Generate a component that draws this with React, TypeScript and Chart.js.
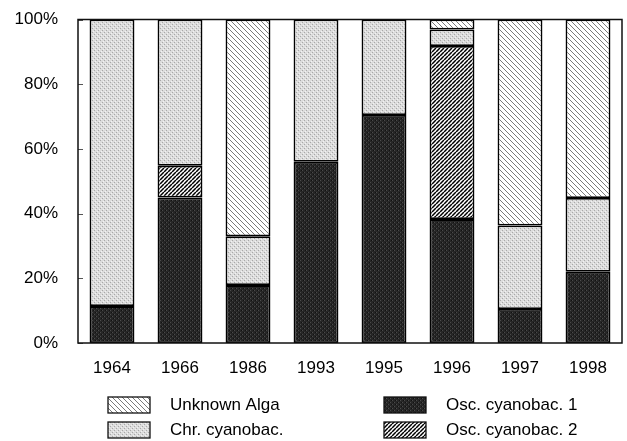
import React, { useEffect, useRef } from "react";
import { Chart, registerables } from "chart.js";

Chart.register(...registerables);

const categories = ["1964", "1966", "1986", "1993", "1995", "1996", "1997", "1998"];
const osc1 = [11.4, 45, 17.9, 56, 70.5, 38.3, 10.5, 22];
const osc2 = [null, 9.8, null, null, null, 53.5, null, null];
const chr = [88.6, 45.2, 15.1, 44, 29.5, 5.1, 25.8, 22.8];
const unknown = [null, null, 67, null, null, 3.1, 63.7, 55.2];
const seriesNames = ["Osc. cyanobac. 1", "Osc. cyanobac. 2", "Chr. cyanobac.", "Unknown Alga"];
const yTickStep = 20;

const FONT = "'Liberation Sans', Arial, sans-serif";

function makeTile(size: number, draw: (c: CanvasRenderingContext2D, s: number) => void) {
  const cv = document.createElement("canvas");
  cv.width = size;
  cv.height = size;
  const c = cv.getContext("2d")!;
  draw(c, size);
  return cv;
}

function makePatterns(ctx: CanvasRenderingContext2D) {
  const dark = makeTile(4, (c, s) => {
    c.fillStyle = "#262626";
    c.fillRect(0, 0, s, s);
    c.fillStyle = "#4a4a4a";
    c.fillRect(0, 0, 1, 1);
    c.fillRect(2, 2, 1, 1);
    c.fillStyle = "#111";
    c.fillRect(1, 2, 1, 1);
    c.fillRect(3, 0, 1, 1);
  });
  const light = makeTile(4, (c, s) => {
    c.fillStyle = "#dcdcdc";
    c.fillRect(0, 0, s, s);
    c.fillStyle = "#a8a8a8";
    c.fillRect(0, 0, 1, 1);
    c.fillRect(2, 2, 1, 1);
    c.fillStyle = "#f2f2f2";
    c.fillRect(1, 3, 1, 1);
    c.fillRect(3, 1, 1, 1);
  });
  const back = makeTile(5, (c, s) => {
    c.fillStyle = "#ffffff";
    c.fillRect(0, 0, s, s);
    c.strokeStyle = "#7a7a7a";
    c.lineWidth = 1;
    for (const o of [-s, 0, s]) {
      c.beginPath();
      c.moveTo(o, 0);
      c.lineTo(o + s, s);
      c.stroke();
    }
  });
  const fwd = makeTile(4, (c, s) => {
    c.fillStyle = "#ffffff";
    c.fillRect(0, 0, s, s);
    c.strokeStyle = "#000000";
    c.lineWidth = 1.5;
    for (const o of [-s, 0, s]) {
      c.beginPath();
      c.moveTo(o, s);
      c.lineTo(o + s, 0);
      c.stroke();
    }
  });
  return {
    osc1: ctx.createPattern(dark, "repeat")!,
    osc2: ctx.createPattern(fwd, "repeat")!,
    chr: ctx.createPattern(light, "repeat")!,
    unknown: ctx.createPattern(back, "repeat")!,
  };
}

export default function App() {
  const ref = useRef<HTMLCanvasElement | null>(null);

  useEffect(() => {
    document.body.style.margin = "0";
    const canvas = ref.current!;
    const ctx = canvas.getContext("2d")!;
    const p = makePatterns(ctx);
    const fills = [p.osc1, p.osc2, p.chr, p.unknown];
    const values = [osc1, osc2, chr, unknown];

    const legendLayout = [
      { idx: 3, x: 108, y: 405 },
      { idx: 2, x: 108, y: 430 },
      { idx: 0, x: 384, y: 405 },
      { idx: 1, x: 384, y: 430 },
    ];

    const extras = {
      id: "extras",
      afterDatasetsDraw(chart: any) {
        const { ctx: c, chartArea: a } = chart;
        const ys = chart.scales.y;
        c.save();
        c.strokeStyle = "#555";
        c.lineWidth = 1;
        for (let v = ys.min; v <= ys.max; v += yTickStep) {
          const y = Math.round(ys.getPixelForValue(v)) + 0.5;
          c.beginPath();
          c.moveTo(a.left, y);
          c.lineTo(a.left + 5, y);
          c.stroke();
        }
        c.strokeStyle = "#111";
        c.lineWidth = 1.5;
        c.strokeRect(a.left, a.top, a.right - a.left, a.bottom - a.top);
        c.restore();
      },
      afterDraw(chart: any) {
        const c = chart.ctx;
        c.save();
        c.font = `17px ${FONT}`;
        c.textBaseline = "middle";
        c.textAlign = "left";
        for (const it of legendLayout) {
          c.fillStyle = fills[it.idx];
          c.fillRect(it.x, it.y - 8, 42, 16);
          c.strokeStyle = "#111";
          c.lineWidth = 1.3;
          c.strokeRect(it.x, it.y - 8, 42, 16);
          c.fillStyle = "#000";
          c.fillText(seriesNames[it.idx], it.x + 62, it.y);
        }
        c.restore();
      },
    };

    const chart = new Chart(canvas, {
      type: "bar",
      data: {
        labels: categories,
        datasets: values.map((d, i) => ({
          label: seriesNames[i],
          data: d as any,
          backgroundColor: fills[i] as any,
          borderColor: "#000",
          borderWidth: 1.8,
          borderSkipped: false,
          barPercentage: 0.66,
          categoryPercentage: 1,
        })),
      },
      options: {
        responsive: false,
        animation: false,
        devicePixelRatio: 1,
        layout: { padding: { top: 19.5, right: 5, left: 0, bottom: 0 } },
        plugins: { legend: { display: false }, tooltip: { enabled: false } },
        scales: {
          x: {
            stacked: true,
            grid: { display: false, drawTicks: false },
            border: { display: false },
            ticks: { color: "#000", font: { family: FONT, size: 17 }, padding: 15, maxRotation: 0 },
            afterFit: (s: any) => {
              s.height = 98;
              s.paddingLeft = 0;
              s.paddingRight = 0;
            },
          },
          y: {
            stacked: true,
            min: 0,
            max: 100,
            grid: { display: false, drawTicks: false },
            border: { display: false },
            ticks: {
              stepSize: yTickStep,
              color: "#000",
              font: { family: FONT, size: 17 },
              padding: 20,
              callback: (v: any) => `${v}%`,
            },
            afterFit: (s: any) => {
              s.width = 78;
              s.paddingTop = 0;
              s.paddingBottom = 0;
            },
          },
        },
      },
      plugins: [extras],
    });
    return () => chart.destroy();
  }, []);

  return <canvas ref={ref} width={627} height={441} style={{ display: "block" }} />;
}
